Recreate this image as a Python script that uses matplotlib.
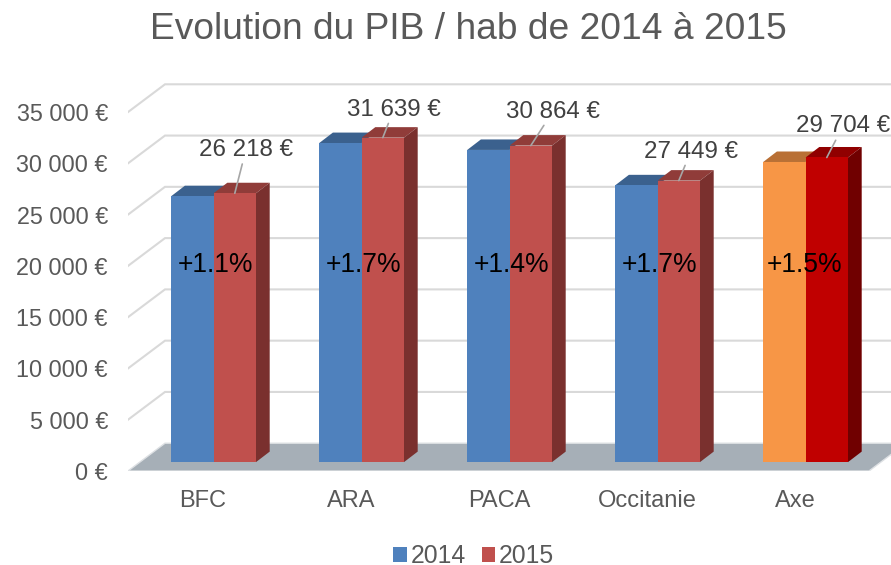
import matplotlib
matplotlib.use('Agg')
import numpy as np
import matplotlib.pyplot as plt
from matplotlib.patches import Polygon, Patch

plt.rcParams['font.family'] = ['Liberation Sans', 'DejaVu Sans']

# Data
regions = ['BFC', 'ARA', 'PACA', 'Occitanie', 'Axe']
pib_2014 = [25930, 31110, 30440, 26990, 29265]
pib_2015 = [26218, 31639, 30864, 27449, 29704]
growth = ['+1.1%', '+1.7%', '+1.4%', '+1.7%', '+1.5%']
value_labels = ['26 218 €', '31 639 €', '30 864 €', '27 449 €', '29 704 €']
y_ticks = [0, 5000, 10000, 15000, 20000, 25000, 30000, 35000]
y_tick_labels = ['0 €', '5 000 €', '10 000 €', '15 000 €', '20 000 €',
                 '25 000 €', '30 000 €', '35 000 €']

# Colours (front, top, side)
col_2014 = ['#4F81BD', '#3B618E']
col_2015 = ['#C0504D', '#903C39', '#7A302E']
col_axe_2014 = ['#F79646', '#B97035']
col_axe_2015 = ['#C00000', '#900000', '#700000']

# Scale of the picture: pixels per category and per euro
px_x = 148.0
px_y = 51.3 / 5000
W, H = 891, 565

fig = plt.figure(figsize=(W / 100, H / 100), dpi=100)
ax = fig.add_axes([128 / W, (H - 471) / H, (W - 128) / W, (471 - 60) / H])
ax.set_xlim((128 - 213.6) / px_x, (W - 213.6) / px_x)
ax.set_ylim(-8.7 / px_y, (462.3 - 60) / px_y)
for s in ax.spines.values():
    s.set_visible(False)
ax.patch.set_alpha(0)

# 3D look: offsets in data units
dep_x = 13.7 / px_x
dep_y = 10.5 / px_y
bar_w = 42.4 / px_x
wall_x = (165 - 213.6) / px_x
front_x = ax.get_xlim()[0]
wall_dy = 18.9 / px_y
front_dy = -8.9 / px_y
floor_r = (869 - 213.6) / px_x

# Floor and gridlines
ax.add_patch(Polygon([(front_x, front_dy), (wall_x, wall_dy), (floor_r + 37 / px_x, wall_dy),
                      (floor_r, front_dy)], closed=True, facecolor='#A6AFB7',
                     edgecolor='#DDE0E3', linewidth=1, zorder=1))
for v in y_ticks[1:]:
    ax.plot([front_x, wall_x, ax.get_xlim()[1]], [v + front_dy, v + wall_dy, v + wall_dy],
            color='#D9D9D9', linewidth=1.5, zorder=1, solid_joinstyle='miter')


def draw_top(x0, val, color, z):
    ax.add_patch(Polygon([(x0, val), (x0 + bar_w, val), (x0 + bar_w + dep_x, val + dep_y),
                          (x0 + dep_x, val + dep_y)], closed=True, facecolor=color,
                         edgecolor='none', zorder=z))


xx = np.arange(len(regions))
for i in xx:
    c14 = col_axe_2014 if regions[i] == 'Axe' else col_2014
    c15 = col_axe_2015 if regions[i] == 'Axe' else col_2015
    x14 = i - bar_w
    x15 = i
    draw_top(x14, pib_2014[i], c14[1], 2)
    ax.bar(x14, pib_2014[i], width=bar_w, align='edge', color=c14[0], zorder=3)
    draw_top(x15, pib_2015[i], c15[1], 4)
    ax.add_patch(Polygon([(x15 + bar_w, 0), (x15 + bar_w + dep_x, dep_y),
                          (x15 + bar_w + dep_x, pib_2015[i] + dep_y), (x15 + bar_w, pib_2015[i])],
                         closed=True, facecolor=c15[2], edgecolor='none', zorder=4))
    ax.bar(x15, pib_2015[i], width=bar_w, align='edge', color=c15[0], zorder=5)

# Growth labels, the last one sits a little to the left
growth_dx = [1.5, 1.5, 1.5, 1.5, -1]
for i in xx:
    ax.text(i + growth_dx[i] / px_x, 19225, growth[i], ha='center', va='center', fontsize=19.1,
            color='black', zorder=7)

# Value labels with leader lines, offset from top of the 2015 bar in pixels
offsets = [(11, 32), (11, 17), (22, 23), (12, 18), (16, 20)]
for i in xx:
    ax.annotate(value_labels[i], xy=(i + bar_w / 2, pib_2015[i]), xytext=offsets[i],
                textcoords='offset pixels', ha='center', va='bottom', fontsize=17.4,
                color='#404040', zorder=8, annotation_clip=False,
                arrowprops=dict(arrowstyle='-', color='#A6A6A6', linewidth=1.2,
                                shrinkA=0, shrinkB=0))

# Axes text
ax.set_yticks([v + front_dy for v in y_ticks])
ax.set_yticklabels(y_tick_labels, fontsize=16.8, color='#595959')
ax.set_xticks(xx - 10.6 / px_x)
ax.set_xticklabels(regions, fontsize=17, color='#595959')
ax.tick_params(axis='both', length=0)
ax.tick_params(axis='y', pad=14.4)
ax.tick_params(axis='x', pad=13.5)

fig.text(468.5 / W, 1 - 29.5 / H, 'Evolution du PIB / hab de 2014 à 2015', ha='center', va='center',
         fontsize=26.7, color='#595959')

handles = [Patch(facecolor=col_2014[0], label='2014'), Patch(facecolor=col_2015[0], label='2015')]
fig.legend(handles=handles, loc='center', bbox_to_anchor=(473.5 / W, 1 - 556 / H), ncol=2,
           frameon=False, fontsize=17.8, labelcolor='#595959', handlelength=0.53, handleheight=0.53,
           handletextpad=0.15, columnspacing=0.65, borderpad=0.2, borderaxespad=0)

fig.savefig('out.png', dpi=100)
